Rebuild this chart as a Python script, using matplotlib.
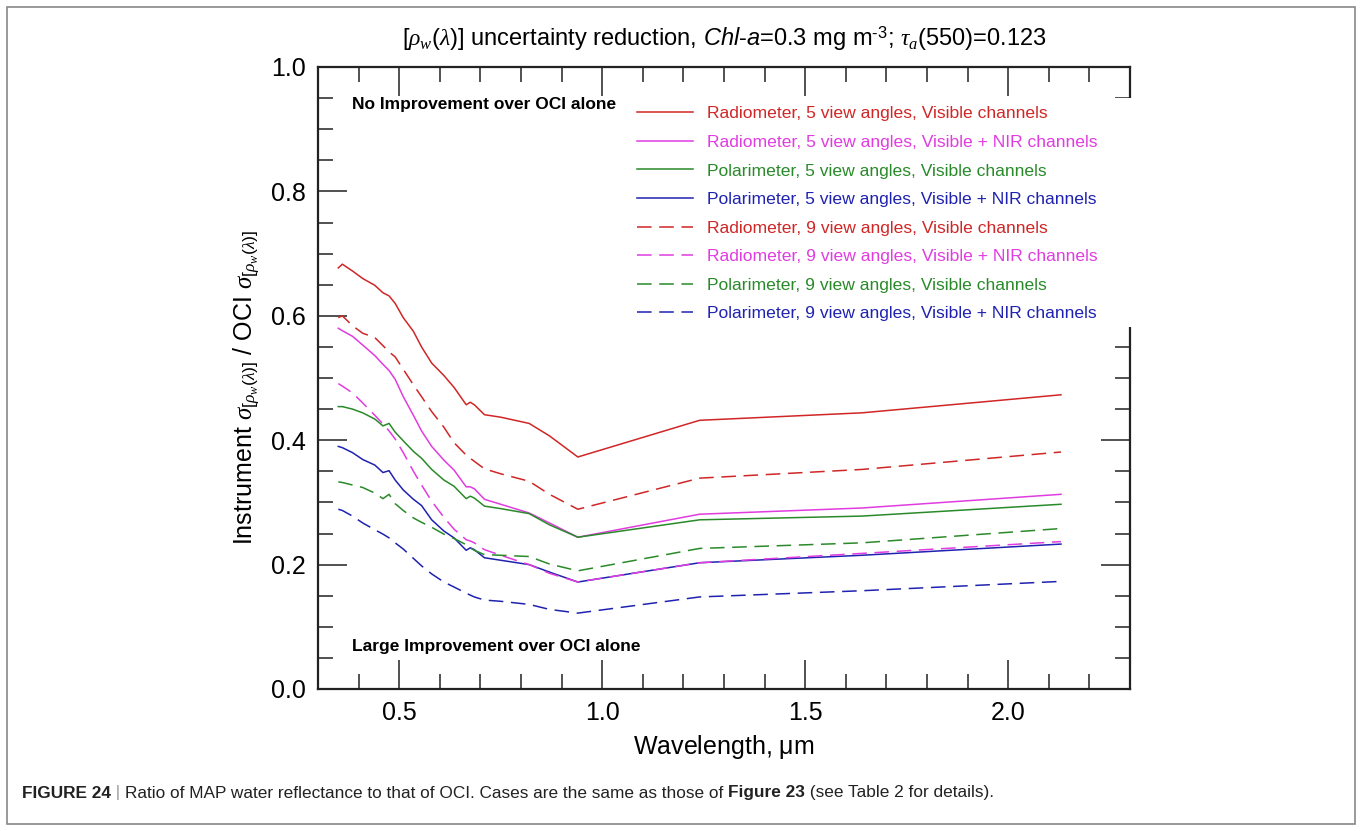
import numpy as np
import matplotlib
matplotlib.use('Agg')
import matplotlib.pyplot as plt
from matplotlib.patches import Rectangle
from matplotlib.ticker import MultipleLocator, FormatStrFormatter

plt.rcParams['font.family'] = ['Liberation Sans', 'DejaVu Sans']
plt.rcParams['mathtext.fontset'] = 'custom'
plt.rcParams['mathtext.rm'] = 'Liberation Sans'
plt.rcParams['mathtext.it'] = 'Liberation Serif:italic'
plt.rcParams['mathtext.sf'] = 'Liberation Sans:italic'
plt.rcParams['lines.scale_dashes'] = False

# wavelength grid (um) and ratio of instrument to OCI uncertainty
wavelength = [0.35, 0.36, 0.385, 0.41, 0.44, 0.46, 0.475, 0.49, 0.51, 0.535,
              0.555, 0.58, 0.61, 0.635, 0.665, 0.675, 0.685, 0.71, 0.75, 0.82,
              0.87, 0.94, 1.24, 1.64, 2.13]

rad5_vis = [0.677, 0.683, 0.672, 0.660, 0.649, 0.637, 0.632, 0.620, 0.597, 0.575,
            0.550, 0.524, 0.504, 0.485, 0.457, 0.461, 0.457, 0.441, 0.437, 0.427,
            0.407, 0.373, 0.432, 0.444, 0.473]
rad5_nir = [0.580, 0.576, 0.567, 0.553, 0.536, 0.522, 0.512, 0.498, 0.470, 0.440,
            0.415, 0.390, 0.368, 0.352, 0.325, 0.325, 0.322, 0.305, 0.297, 0.283,
            0.267, 0.244, 0.281, 0.291, 0.313]
pol5_vis = [0.454, 0.454, 0.450, 0.444, 0.434, 0.423, 0.427, 0.413, 0.399, 0.382,
            0.371, 0.353, 0.336, 0.326, 0.306, 0.310, 0.307, 0.294, 0.290, 0.282,
            0.264, 0.244, 0.272, 0.278, 0.297]
pol5_nir = [0.390, 0.388, 0.380, 0.369, 0.360, 0.348, 0.351, 0.336, 0.320, 0.305,
            0.295, 0.272, 0.254, 0.243, 0.223, 0.227, 0.224, 0.211, 0.207, 0.200,
            0.188, 0.172, 0.203, 0.215, 0.233]
rad9_vis = [0.597, 0.600, 0.584, 0.572, 0.565, 0.552, 0.542, 0.534, 0.514, 0.489,
            0.470, 0.446, 0.421, 0.396, 0.376, 0.371, 0.366, 0.354, 0.346, 0.334,
            0.313, 0.289, 0.339, 0.353, 0.381]
rad9_nir = [0.491, 0.487, 0.476, 0.460, 0.440, 0.426, 0.415, 0.402, 0.380, 0.350,
            0.328, 0.302, 0.276, 0.257, 0.240, 0.238, 0.235, 0.224, 0.215, 0.200,
            0.186, 0.172, 0.203, 0.218, 0.237]
pol9_vis = [0.333, 0.332, 0.328, 0.324, 0.315, 0.306, 0.313, 0.298, 0.287, 0.275,
            0.268, 0.260, 0.249, 0.242, 0.232, 0.227, 0.223, 0.216, 0.215, 0.213,
            0.201, 0.190, 0.226, 0.235, 0.258]
pol9_nir = [0.289, 0.287, 0.278, 0.267, 0.256, 0.249, 0.243, 0.235, 0.225, 0.210,
            0.198, 0.185, 0.172, 0.164, 0.154, 0.151, 0.148, 0.143, 0.141, 0.136,
            0.128, 0.122, 0.148, 0.158, 0.173]

labels = ['Radiometer, 5 view angles, Visible channels',
          'Radiometer, 5 view angles, Visible + NIR channels',
          'Polarimeter, 5 view angles, Visible channels',
          'Polarimeter, 5 view angles, Visible + NIR channels',
          'Radiometer, 9 view angles, Visible channels',
          'Radiometer, 9 view angles, Visible + NIR channels',
          'Polarimeter, 9 view angles, Visible channels',
          'Polarimeter, 9 view angles, Visible + NIR channels']
series = [rad5_vis, rad5_nir, pol5_vis, pol5_nir, rad9_vis, rad9_nir, pol9_vis, pol9_nir]
colors = ['#d02626', '#e03ce0', '#2a8a2a', '#1f22b0'] * 2
dashed = [False] * 4 + [True] * 4

fig = plt.figure(figsize=(13.62, 8.31), dpi=100)
ax = fig.add_axes([318 / 1362, 1 - 689 / 831, 812 / 1362, 622 / 831])

for y, lab, c, d in zip(series, labels, colors, dashed):
    if d:
        ax.plot(wavelength, y, color=c, lw=1.1, dashes=(10.5, 5.5), label=lab)
    else:
        ax.plot(wavelength, y, color=c, lw=1.1, label=lab)

ax.set_xlim(0.3, 2.3)
ax.set_ylim(0.0, 1.0)
ax.xaxis.set_major_locator(MultipleLocator(0.5))
ax.xaxis.set_minor_locator(MultipleLocator(0.1))
ax.yaxis.set_major_locator(MultipleLocator(0.2))
ax.yaxis.set_minor_locator(MultipleLocator(0.05))
ax.xaxis.set_major_formatter(FormatStrFormatter('%.1f'))
ax.yaxis.set_major_formatter(FormatStrFormatter('%.1f'))
ax.tick_params(which='both', direction='in', top=True, right=True, width=1.1,
               labelsize=18, color='#222222')
ax.tick_params(which='major', length=21, pad=9)
ax.tick_params(which='minor', length=10.5)
for s in ax.spines.values():
    s.set_linewidth(1.6)
    s.set_color('#222222')

ax.set_xlabel(r'Wavelength, $\mathrm{\mu}$m', fontsize=18)
ax.xaxis.set_label_coords(0.5, -0.07)
ax.set_ylabel(r'Instrument $\sigma_{[\rho_w(\lambda)]}$ / OCI $\sigma_{[\rho_w(\lambda)]}$',
              fontsize=18)
ax.yaxis.set_label_coords(-0.068, 0.485)

ax.text(0.384, 0.939, 'No Improvement over OCI alone', fontsize=12.5,
        fontweight='bold', va='center', ha='left')
ax.text(0.384, 0.069, 'Large Improvement over OCI alone', fontsize=12.5,
        fontweight='bold', va='center', ha='left')

# opaque legend backing, it hides the right spine and its ticks
ax.add_patch(Rectangle((0.38, 0.582), 0.635, 0.368, transform=ax.transAxes,
                       facecolor='white', edgecolor='none', zorder=2.6,
                       clip_on=False))
leg = ax.legend(loc='upper left', bbox_to_anchor=(0.393, 0.937), frameon=False,
                fontsize=12.6, labelcolor='linecolor', handlelength=3.2,
                handletextpad=0.8, labelspacing=0.76, borderpad=0, borderaxespad=0)

fig.text(724 / 1362, 1 - 39 / 831,
         r'$[\rho_w(\lambda)]$ uncertainty reduction, $\mathsf{Chl}$-$\mathsf{a}$=0.3 mg m$^{\text{-3}}$; $\tau_a$(550)=0.123',
         fontsize=17, ha='center', va='center')

# outer frame and caption
fig.patches.append(Rectangle((7 / 1362, 7 / 831), 1348 / 1362, 817 / 831,
                             transform=fig.transFigure, fill=False,
                             edgecolor='#888888', lw=1.2))

renderer = fig.canvas.get_renderer()
pieces = [('FIGURE 24', 'bold', '#222222'),
          (' | ', 'normal', '#999999'),
          ('Ratio of MAP water reflectance to that of OCI. Cases are the same as those of ',
           'normal', '#222222'),
          ('Figure 23', 'bold', '#222222'),
          (' (see Table 2 for details).', 'normal', '#222222')]
x = 22
for txt, wt, col in pieces:
    t = fig.text(x / 1362, 1 - 793 / 831, txt, fontsize=12.4, fontweight=wt,
                 color=col, va='center', ha='left')
    bb = t.get_window_extent(renderer)
    x += bb.width

fig.savefig('out.png', dpi=100)
